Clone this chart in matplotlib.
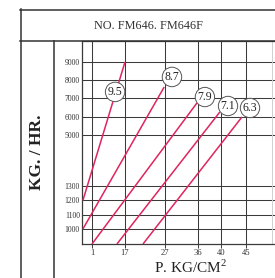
import numpy as np
import matplotlib
matplotlib.use('Agg')
import matplotlib.pyplot as plt
from matplotlib.lines import Line2D

# ---------------- data ----------------
x_ticks = [1, 17, 27, 36, 40, 45]
x_tick_labels = ['1', '17', '27', '36', '40', '45']
y_ticks = [1000, 1100, 1200, 1300, 5000, 6000, 7000, 8000, 9000]
y_tick_labels = ['1000', '1100', '1200', '1300', '5000', '6000', '7000', '8000', '9000']

series_labels = ['9.5', '8.7', '7.9', '7.1', '6.3']
start_p = [-3.4, -3.4, 1.0, 13.1, 21.5]
start_kg = [1200, 1000, 895, 895, 895]
end_p = [17.0, 26.8, 35.7, 39.8, 44.2]
end_kg = [9000, 7630, 6750, 6260, 5990]
label_p = [12.2, 28.9, 37.2, 41.4, 45.8]
label_kg = [7360, 8180, 7080, 6590, 6480]

title = 'NO. FM646. FM646F'
y_label = 'KG. / HR.'
x_label = r'P. KG/CM$^{\mathrm{2}}$'

# ---------------- scale (nomograph, non-linear axes) ----------------
x_knots = [-3.85, 1, 17, 27, 36, 40, 45, 50.8]
x_pos = [0, 10, 43, 83, 116, 139, 164, 193]
y_knots = [895, 1300, 5000, 10150]
y_pos = [0, 58, 109, 203]


def make_interp(a, b):
    a = np.asarray(a, float)
    b = np.asarray(b, float)
    s0 = (b[1] - b[0]) / (a[1] - a[0])
    s1 = (b[-1] - b[-2]) / (a[-1] - a[-2])

    def f(v):
        v = np.asarray(v, float)
        out = np.interp(v, a, b)
        out = np.where(v < a[0], b[0] + (v - a[0]) * s0, out)
        out = np.where(v > a[-1], b[-1] + (v - a[-1]) * s1, out)
        return out
    return f


plt.rcParams['mathtext.fontset'] = 'custom'
plt.rcParams['mathtext.rm'] = 'Liberation Serif'
plt.rcParams['font.family'] = ['Liberation Serif', 'DejaVu Serif']

W, H = 275, 278
fig = plt.figure(figsize=(W / 100, H / 100), dpi=100)
fig.patch.set_facecolor('white')

ax = fig.add_axes([82 / W, (H - 244) / H, (W - 82) / W, (244 - 41) / H])
ax.set_xscale('function', functions=(make_interp(x_knots, x_pos), make_interp(x_pos, x_knots)))
ax.set_yscale('function', functions=(make_interp(y_knots, y_pos), make_interp(y_pos, y_knots)))
ax.set_xlim(x_knots[0], x_knots[-1])
ax.set_ylim(y_knots[0], y_knots[-1])

grid_c = '#3a3a3a'
ax.set_xticks(x_ticks)
ax.set_xticklabels(x_tick_labels)
ax.set_yticks(y_ticks)
ax.set_yticklabels(y_tick_labels)
ax.minorticks_off()
ax.grid(True, color=grid_c, lw=0.75)
ax.tick_params(axis='x', length=3, width=0.7, color=grid_c, pad=0.5, labelsize=6.2, labelcolor='#333333')
ax.tick_params(axis='y', length=0, pad=1.5, labelsize=5.6, labelcolor='#333333')
for s in ['left', 'bottom', 'top']:
    ax.spines[s].set_color(grid_c)
    ax.spines[s].set_linewidth(0.9)
ax.spines['right'].set_visible(False)

# faint extra grid line at the right
ax.axvline(50.2, color='#d0d0d0', lw=0.7)

red = '#e0245e'
for i in range(len(series_labels)):
    ax.plot([start_p[i], end_p[i]], [start_kg[i], end_kg[i]], color=red, lw=1.1, zorder=3,
            solid_capstyle='butt')
    ax.text(label_p[i], label_kg[i], series_labels[i], ha='center', va='center', fontsize=8.5,
            color='#222222', zorder=5,
            bbox=dict(boxstyle='circle,pad=0.2', fc='white', ec='#555555', lw=0.7))

# frame
frame_c = '#333333'
def fline(x0, y0, x1, y1, lw=1.1):
    fig.add_artist(Line2D([x0 / W, x1 / W], [1 - y0 / H, 1 - y1 / H], color=frame_c, lw=lw,
                          transform=fig.transFigure))

fline(20.5, 9, 20.5, H)
fline(20, 9.5, W, 9.5)
fline(20, 41, W, 41)
fline(54, 41, 54, H)

fig.text(148 / W, 1 - 26 / H, title, ha='center', va='center', fontsize=8.8, color='#333333')
fig.text(37 / W, 1 - 152 / H, y_label, ha='center', va='center', rotation=90, fontsize=12.5,
         fontweight='bold', color='#222222')
fig.text(190 / W, 1 - 267 / H, x_label, ha='center', va='center', fontsize=11, color='#222222')

fig.savefig('out.png', dpi=100, facecolor='white')
